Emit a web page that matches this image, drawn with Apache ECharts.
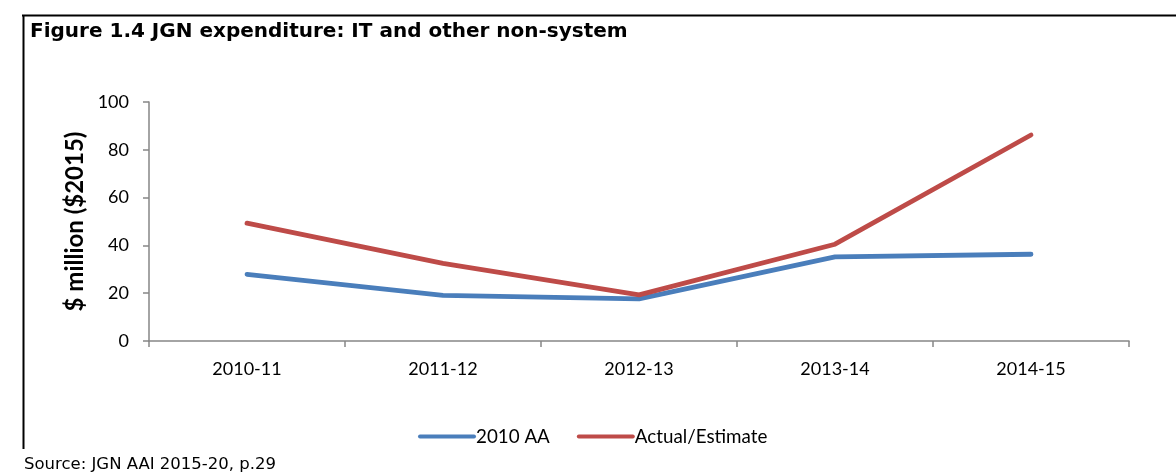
<!DOCTYPE html>
<html>
<head>
<meta charset="utf-8">
<script src="https://cdn.jsdelivr.net/npm/echarts@6/dist/echarts.min.js"></script>
<style>
html,body{margin:0;padding:0;background:#fff;}
#chart{width:1176px;height:472px;}
</style>
</head>
<body>
<div id="chart"></div>
<script>
const categories = ['2010-11', '2011-12', '2012-13', '2013-14', '2014-15'];
const aa2010 = [27.9, 19.1, 17.6, 35.2, 36.3];
const actualEstimate = [49.3, 32.5, 19.3, 40.5, 86.2];
const yTicks = [0, 20, 40, 60, 80, 100];

const chart = echarts.init(document.getElementById('chart'));
const axisGray = '#868686';
chart.setOption({
  animation: false,
  backgroundColor: '#fff',
  title: {
    text: 'Figure 1.4 JGN expenditure: IT and other non-system',
    left: 25, top: 17,
    textStyle: {fontFamily: 'DejaVu Sans', fontWeight: 'bold', fontSize: 20, color: '#000'}
  },
  graphic: [
    {type: 'line', shape: {x1: 22, y1: 15.5, x2: 1176, y2: 15.5}, style: {stroke: '#000', lineWidth: 2}},
    {type: 'line', shape: {x1: 23.5, y1: 15, x2: 23.5, y2: 449}, style: {stroke: '#000', lineWidth: 2}},
    {type: 'text', left: 24, top: 456, style: {text: 'Source: JGN AAI 2015-20, p.29', font: '16.5px "DejaVu Sans"', fill: '#000'}}
  ],
  legend: {
    data: ['2010 AA', 'Actual/Estimate'],
    left: 413, top: 422,
    itemWidth: 58, itemHeight: 5, itemGap: 27,
    icon: 'path://M2,0 L56,0 A2,2 0 0 1 56,4 L2,4 A2,2 0 0 1 2,0 Z',
    textStyle: {fontFamily: 'Lato', fontSize: 18.8, color: '#000', padding: [0, 0, 0, -5]}
  },
  grid: {left: 149, right: 47, top: 102, bottom: 131},
  xAxis: {
    type: 'category',
    data: categories,
    boundaryGap: true,
    axisLine: {lineStyle: {color: axisGray, width: 1.5}},
    axisTick: {show: true, length: 6, lineStyle: {color: axisGray, width: 1.5}},
    axisLabel: {fontFamily: 'Lato', fontSize: 18, color: '#000', margin: 19}
  },
  yAxis: {
    type: 'value',
    min: 0, max: 100, interval: 20,
    name: '$ million ($2015)',
    nameLocation: 'middle',
    nameGap: 53,
    nameRotate: 90,
    nameTextStyle: {fontFamily: 'Lato', fontWeight: 'bold', fontSize: 24, color: '#000'},
    axisLine: {show: true, lineStyle: {color: axisGray, width: 1.5}},
    axisTick: {show: true, length: 6, lineStyle: {color: axisGray, width: 1.5}},
    splitLine: {show: false},
    axisLabel: {fontFamily: 'Lato', fontSize: 18, color: '#000', margin: 20,
      formatter: v => yTicks.includes(v) ? String(v) : ''}
  },
  series: [
    {name: '2010 AA', type: 'line', data: aa2010, showSymbol: false, symbol: 'none',
      lineStyle: {color: '#4A7EBB', width: 4.8, cap: 'round', join: 'round'}, itemStyle: {color: '#4A7EBB'}},
    {name: 'Actual/Estimate', type: 'line', data: actualEstimate, showSymbol: false, symbol: 'none',
      lineStyle: {color: '#BE4B48', width: 4.8, cap: 'round', join: 'round'}, itemStyle: {color: '#BE4B48'}}
  ]
});
</script>
</body>
</html>
